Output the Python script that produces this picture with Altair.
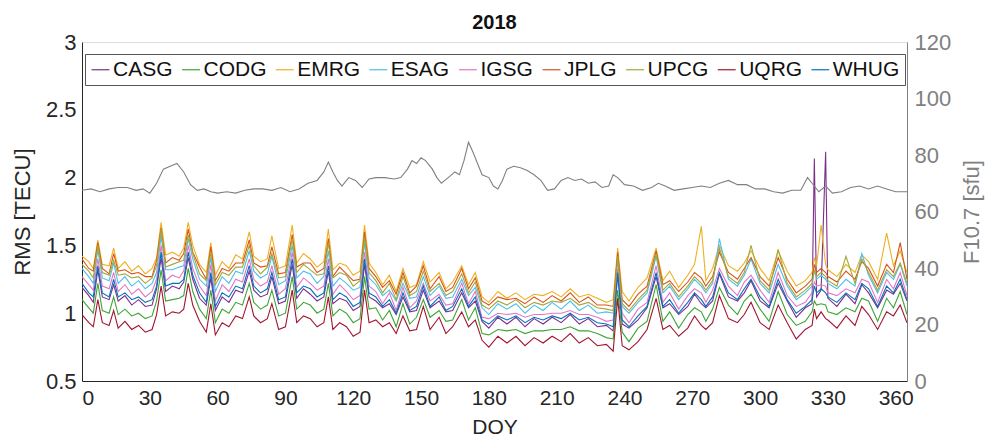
import altair as alt
import pandas as pd

days = [0,3,5,7,9,12,14,16,19,22, 25,28,31,33,35,37,40,43,45,47,
        49,52,55,57,59,62,65,68,71,74, 76,79,82,84,87,90,93,95,98,101,
        104,107,109,111,114,117,120,123,125,127, 130,133,136,139,142,145,148,151,154,158,
        161,164,168,171,174,177,180,184,188,192, 196,200,204,208,212,216,220,224,228,232,
        235,237,239,242,246,250,254,257,260,264, 268,271,274,276,279,282,286,290,293,296,
        300,304,308,312,316,320,323,324,325,327, 329,330,334,338,342,345,348,352,356,359,
        362,365]

CASG = [1.19,1.13,1.08,1.32,1.12,1.10,1.21,1.09,1.13,1.06, 1.10,1.05,1.06,1.18,1.41,1.16,1.20,1.18,1.23,1.41,
        1.25,1.11,1.06,1.26,1.02,1.12,1.08,1.17,1.15,1.31, 1.17,1.12,1.14,1.27,1.07,1.09,1.36,1.11,1.18,1.14,
        1.09,1.12,1.31,1.07,1.11,1.09,1.02,1.05,1.36,1.12, 1.09,1.04,1.07,0.99,1.12,1.01,1.02,1.17,1.04,1.09,
        1.01,1.02,1.15,1.04,1.09,0.94,0.89,0.97,0.92,0.97, 0.90,0.96,0.92,0.97,0.93,0.99,0.92,0.96,0.90,0.91,
        0.87,1.29,0.92,0.89,0.95,1.04,1.27,1.04,1.07,0.99, 1.05,1.14,1.07,1.04,1.09,1.29,1.12,1.09,1.15,1.24,
        1.09,1.04,1.22,1.09,0.97,1.04,1.07,2.14,1.12,1.17, 2.19,1.11,1.05,1.14,1.07,1.21,1.15,1.04,1.17,1.14,
        1.22,1.09]
CODG = [1.10,1.04,1.00,1.22,1.02,1.00,1.12,0.99,1.03,0.98, 1.00,0.96,0.98,1.09,1.32,1.09,1.10,1.11,1.13,1.33,
        1.16,1.03,0.96,1.17,0.93,1.03,1.00,1.08,1.06,1.22, 1.08,1.03,1.06,1.17,0.98,1.00,1.27,1.03,1.08,1.06,
        1.00,1.03,1.22,0.98,1.03,1.00,0.93,0.96,1.27,1.03, 1.04,0.95,1.02,0.90,1.07,0.92,0.97,1.10,0.97,1.02,
        0.94,0.95,1.10,0.95,1.04,0.85,0.84,0.88,0.87,0.88, 0.85,0.87,0.87,0.88,0.88,0.90,0.87,0.87,0.85,0.82,
        0.81,1.17,0.86,0.79,0.89,0.94,1.21,0.94,1.01,0.89, 0.99,1.04,1.01,0.94,1.03,1.19,1.06,0.99,1.09,1.14,
        1.03,0.94,1.16,0.99,0.91,0.94,1.01,1.09,1.06,1.07, 1.06,1.01,0.99,1.04,1.01,1.11,1.09,0.94,1.11,1.04,
        1.16,0.99]
EMRG = [1.42,1.38,1.33,1.54,1.36,1.35,1.48,1.33,1.38,1.31, 1.35,1.29,1.33,1.41,1.67,1.43,1.45,1.42,1.48,1.67,
        1.50,1.36,1.30,1.52,1.28,1.38,1.33,1.43,1.40,1.60, 1.42,1.38,1.40,1.57,1.33,1.35,1.65,1.37,1.44,1.40,
        1.34,1.38,1.62,1.32,1.37,1.35,1.28,1.31,1.65,1.37, 1.30,1.21,1.28,1.16,1.33,1.19,1.21,1.38,1.23,1.30,
        1.18,1.23,1.35,1.21,1.30,1.12,1.08,1.16,1.11,1.15, 1.10,1.14,1.13,1.16,1.12,1.18,1.12,1.14,1.11,1.08,
        1.10,1.48,1.16,1.09,1.19,1.26,1.48,1.24,1.31,1.19, 1.28,1.36,1.64,1.24,1.33,1.50,1.35,1.31,1.37,1.46,
        1.33,1.24,1.46,1.31,1.20,1.24,1.30,1.41,1.35,1.65, 1.36,1.32,1.27,1.36,1.30,1.43,1.38,1.25,1.59,1.35,
        1.46,1.30]
ESAG = [1.33,1.27,1.22,1.47,1.26,1.24,1.37,1.22,1.27,1.20, 1.24,1.18,1.22,1.30,1.57,1.32,1.32,1.34,1.35,1.55,
        1.40,1.25,1.20,1.41,1.16,1.27,1.22,1.31,1.29,1.46, 1.31,1.26,1.29,1.42,1.21,1.24,1.50,1.26,1.31,1.29,
        1.22,1.27,1.46,1.20,1.26,1.22,1.17,1.19,1.52,1.26, 1.21,1.13,1.17,1.09,1.22,1.11,1.12,1.27,1.13,1.20,
        1.11,1.12,1.25,1.13,1.19,1.04,0.99,1.07,1.03,1.07, 1.00,1.06,1.02,1.08,1.03,1.09,1.02,1.06,1.00,1.01,
        1.00,1.40,1.05,1.00,1.08,1.15,1.42,1.15,1.20,1.10, 1.18,1.25,1.20,1.15,1.22,1.55,1.25,1.20,1.28,1.40,
        1.22,1.15,1.36,1.20,1.10,1.15,1.20,1.32,1.25,1.28, 1.25,1.22,1.18,1.25,1.20,1.44,1.28,1.15,1.30,1.25,
        1.36,1.20]
IGSG = [1.27,1.21,1.17,1.40,1.20,1.18,1.30,1.16,1.21,1.14, 1.18,1.12,1.16,1.25,1.50,1.24,1.28,1.26,1.31,1.50,
        1.33,1.20,1.13,1.36,1.09,1.21,1.16,1.25,1.23,1.40, 1.25,1.20,1.23,1.35,1.14,1.18,1.45,1.19,1.26,1.22,
        1.17,1.20,1.40,1.14,1.21,1.16,1.10,1.13,1.45,1.20, 1.16,1.07,1.15,1.02,1.19,1.04,1.09,1.22,1.09,1.14,
        1.06,1.07,1.22,1.07,1.16,0.97,0.96,1.00,0.99,1.00, 0.97,0.99,0.99,1.00,1.00,1.02,0.99,0.99,0.97,0.94,
        0.95,1.33,1.00,0.93,1.03,1.08,1.35,1.08,1.15,1.03, 1.13,1.18,1.15,1.08,1.17,1.33,1.20,1.13,1.23,1.28,
        1.17,1.08,1.30,1.13,1.05,1.08,1.15,1.23,1.20,1.21, 1.20,1.15,1.13,1.18,1.15,1.25,1.23,1.08,1.25,1.18,
        1.30,1.13]
JPLG = [1.40,1.33,1.31,1.52,1.33,1.29,1.44,1.31,1.32,1.29, 1.30,1.27,1.27,1.39,1.63,1.37,1.41,1.39,1.44,1.62,
        1.45,1.34,1.25,1.49,1.24,1.33,1.31,1.37,1.37,1.54, 1.37,1.34,1.35,1.49,1.29,1.30,1.58,1.34,1.37,1.37,
        1.30,1.33,1.55,1.27,1.34,1.29,1.24,1.25,1.60,1.33, 1.27,1.19,1.24,1.14,1.30,1.15,1.20,1.35,1.18,1.27,
        1.16,1.19,1.33,1.18,1.26,1.09,1.06,1.12,1.10,1.11, 1.07,1.12,1.08,1.13,1.09,1.15,1.08,1.12,1.06,1.06,
        1.05,1.45,1.10,1.05,1.14,1.20,1.46,1.21,1.24,1.16, 1.23,1.30,1.26,1.20,1.27,1.45,1.30,1.25,1.33,1.41,
        1.27,1.20,1.41,1.25,1.15,1.20,1.25,1.36,1.30,1.33, 1.30,1.27,1.23,1.31,1.25,1.38,1.33,1.20,1.36,1.30,
        1.52,1.25]
UPCG = [1.36,1.31,1.26,1.50,1.30,1.28,1.39,1.28,1.29,1.26, 1.27,1.22,1.26,1.35,1.62,1.34,1.36,1.38,1.39,1.58,
        1.44,1.29,1.24,1.45,1.21,1.30,1.28,1.34,1.34,1.50, 1.35,1.29,1.34,1.44,1.26,1.27,1.55,1.30,1.36,1.32,
        1.28,1.29,1.52,1.26,1.30,1.28,1.20,1.24,1.56,1.30, 1.24,1.15,1.22,1.10,1.27,1.13,1.16,1.31,1.16,1.22,
        1.13,1.16,1.29,1.15,1.23,1.06,1.03,1.09,1.06,1.10, 1.04,1.08,1.06,1.09,1.08,1.11,1.06,1.08,1.04,1.03,
        1.02,1.42,1.07,1.02,1.10,1.17,1.44,1.17,1.22,1.12, 1.20,1.27,1.22,1.17,1.24,1.48,1.27,1.22,1.30,1.50,
        1.24,1.17,1.47,1.22,1.12,1.17,1.22,1.32,1.27,1.30, 1.27,1.24,1.20,1.42,1.22,1.40,1.30,1.17,1.32,1.27,
        1.37,1.22]
UQRG = [0.99,0.93,0.90,1.10,0.93,0.91,1.02,0.89,0.94,0.88, 0.91,0.86,0.88,0.99,1.20,0.98,1.01,1.00,1.03,1.22,
        1.06,0.94,0.86,1.07,0.84,0.93,0.90,0.98,0.96,1.12, 0.98,0.93,0.96,1.07,0.88,0.90,1.17,0.93,0.98,0.96,
        0.90,0.93,1.12,0.88,0.93,0.90,0.83,0.86,1.17,0.93, 0.95,0.90,0.93,0.85,0.98,0.87,0.88,1.05,0.88,0.97,
        0.85,0.90,1.01,0.90,0.95,0.80,0.75,0.83,0.78,0.83, 0.76,0.82,0.78,0.83,0.79,0.85,0.78,0.82,0.76,0.77,
        0.72,1.11,0.76,0.73,0.79,0.88,1.11,0.88,0.91,0.83, 0.89,0.98,0.91,0.88,0.93,1.13,0.96,0.93,0.99,1.08,
        0.93,0.88,1.06,0.93,0.81,0.88,0.91,1.03,0.96,1.01, 0.96,0.95,0.89,0.98,0.91,1.05,0.99,0.88,1.01,0.98,
        1.06,0.93]
WHUG = [1.22,1.15,1.12,1.35,1.15,1.12,1.25,1.12,1.15,1.10, 1.12,1.08,1.10,1.20,1.45,1.20,1.22,1.22,1.25,1.45,
        1.28,1.15,1.08,1.30,1.05,1.15,1.12,1.20,1.18,1.35, 1.20,1.15,1.18,1.30,1.10,1.12,1.40,1.15,1.20,1.18,
        1.12,1.15,1.35,1.10,1.15,1.12,1.05,1.08,1.40,1.15, 1.12,1.05,1.10,1.00,1.15,1.02,1.05,1.20,1.05,1.12,
        1.02,1.05,1.18,1.05,1.12,0.95,0.92,0.98,0.95,0.98, 0.93,0.97,0.95,0.98,0.96,1.00,0.95,0.97,0.93,0.92,
        0.90,1.30,0.95,0.90,0.98,1.05,1.30,1.05,1.10,1.00, 1.08,1.15,1.10,1.05,1.12,1.30,1.15,1.10,1.18,1.25,
        1.12,1.05,1.25,1.10,1.00,1.05,1.10,1.20,1.15,1.18, 1.15,1.12,1.08,1.15,1.10,1.22,1.18,1.05,1.20,1.15,
        1.25,1.10]

f107_days = [0,4,8,12,16,20,24,27,30,33, 36,39,42,45,48,51,54,57,60,64,
             68,72,76,80,84,88,92,96,100,104, 107,109,111,113,115,118,121,124,127,130,
             134,138,141,144,146,148,150,152,155,157, 159,162,165,167,169,171,173,175,177,180,
             182,184,186,188,191,194,197,200,203,206, 209,212,215,218,221,224,227,230,233,235,
             237,240,244,248,252,255,258,262,266,270, 274,278,282,286,290,294,298,302,306,310,
             314,318,321,323,326,329,332,336,340,344, 348,352,356,360,365]
f107 = [67.5,68,67,68,68.5,68.5,67.5,68,66.5,70, 75,76,77,74,69.5,67.5,68,67,66.5,67,
        66.5,67.5,68,68,67.5,68.5,67,68,70,71, 74,77.5,74,71,69,72,71,68.5,71.5,72,
        72,71.5,72,75,78,77,79,78,75,72, 70,72,74,73,78,84.5,81,77,73,72,
        69,68,71,75,76,75.5,74.5,73,71,67.5, 68,71,72,71,71.5,70,70.5,68.5,69,73,
        72,69.5,69,67.5,68.5,70,69,67.5,68,68.5, 69,68.5,70,71,69.5,69.5,68,68,67,66.5,
        67.5,67.5,72,70,67,69,66.5,67,68.5,69, 68,69,68,67,67]

names = ["CASG", "CODG", "EMRG", "ESAG", "IGSG", "JPLG", "UPCG", "UQRG", "WHUG"]
colors = ["#7E2F8E", "#3FA535", "#EDB120", "#4DBEEE", "#E377C2",
          "#D95319", "#A2A83A", "#A2142F", "#0072BD"]
series = [CASG, CODG, EMRG, ESAG, IGSG, JPLG, UPCG, UQRG, WHUG]

rows = []
for name, vals in zip(names, series):
    assert len(vals) == len(days), name
    for d, v in zip(days, vals):
        rows.append({"DOY": d, "RMS": v, "Product": name})
df = pd.DataFrame(rows)
fdf = pd.DataFrame({"DOY": f107_days, "F107": f107})

FONT = "Liberation Sans"
DARK = "#262626"
GRAY = "#808080"
LBL = 22

xenc = alt.X("DOY:Q",
             scale=alt.Scale(domain=[0, 365], nice=False, zero=False),
             axis=alt.Axis(values=list(range(0, 361, 30)), title="DOY",
                           grid=False, tickSize=0, labelPadding=6,
                           labelFontSize=21, titleFontSize=21, titleFontWeight="normal",
                           labelColor=DARK, titleColor=DARK, domainColor=DARK,
                           labelFont=FONT, titleFont=FONT, titlePadding=8))

rms = alt.Chart(df).mark_line(strokeWidth=1.1, clip=True).encode(
    x=xenc,
    y=alt.Y("RMS:Q",
            scale=alt.Scale(domain=[0.5, 3], nice=False, zero=False),
            axis=alt.Axis(values=[0.5, 1, 1.5, 2, 2.5, 3], title="RMS [TECU]",
                          labelExpr="'' + datum.value", grid=False, tickSize=0,
                          labelPadding=6, labelFontSize=LBL, titleFontSize=22,
                          titleFontWeight="normal", labelColor=DARK, titleColor=DARK,
                          domainColor=DARK, labelFont=FONT, titleFont=FONT,
                          titlePadding=11)),
    color=alt.Color("Product:N",
                    scale=alt.Scale(domain=names, range=colors),
                    legend=alt.Legend(title=None, orient="none", legendX=3, legendY=12,
                                      direction="horizontal", columns=9,
                                      symbolType="stroke", symbolSize=320,
                                      symbolStrokeWidth=1.2, labelFontSize=21,
                                      labelFont=FONT, labelColor="#111111",
                                      strokeColor="#555555", fillColor="white",
                                      padding=5, columnPadding=6.6, labelOffset=2)),
)

f107_line = alt.Chart(fdf).mark_line(strokeWidth=1.1, color=GRAY).encode(
    x=xenc,
    y=alt.Y("F107:Q",
            scale=alt.Scale(domain=[0, 120], nice=False, zero=False),
            axis=alt.Axis(orient="right", values=list(range(0, 121, 20)),
                          title="F10.7 [sfu]", titleAngle=270, grid=False, tickSize=0,
                          labelPadding=7, labelFontSize=LBL, titleFontSize=22,
                          titleFontWeight="normal", labelColor=GRAY, titleColor=GRAY,
                          domainColor=GRAY, labelFont=FONT, titleFont=FONT,
                          titlePadding=33)),
)

chart = alt.layer(rms, f107_line).resolve_scale(y="independent").properties(
    width=825, height=339,
    title=alt.TitleParams("2018", fontSize=20, fontWeight="bold", font=FONT,
                          color="#111111", offset=-2),
    autosize=alt.AutoSizeParams(type="none"),
    padding={"left": 82, "top": 42, "right": 90, "bottom": 61},
).configure_view(stroke="#999999", strokeWidth=1).configure(background="white")

chart.save("out.html", embed_options={"renderer": "svg", "actions": False})
